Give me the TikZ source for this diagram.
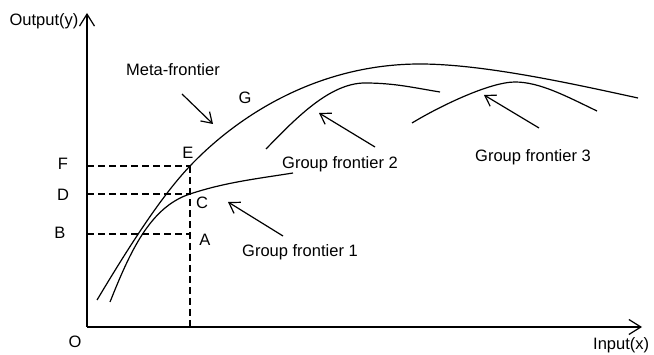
\documentclass[tikz,border=0pt]{standalone}
\usepackage{fontspec}
\setmainfont{Liberation Sans}
\usetikzlibrary{arrows.meta}
\begin{document}
\begin{tikzpicture}[x=1pt,y=-1pt,
  axis/.style={line width=1.3pt,-{Straight Barb[length=12pt,width=15pt,line width=1.2pt]}},
  curve/.style={line width=1.2pt},
  guide/.style={line width=1.1pt,dash pattern=on 7pt off 4pt},
  pointer/.style={line width=1.2pt,-{Straight Barb[length=10pt,width=13pt,line width=1.2pt]}},
  lbl/.style={font=\fontsize{16.5}{19}\selectfont,inner sep=0pt}]
\useasboundingbox (0,0) rectangle (654,355);
% axes
\coordinate (O) at (87,327);
\coordinate (ytop) at (87,13);
\coordinate (xend) at (642,327);
\draw[axis] (O) -- (ytop);
\draw[axis] (O) -- (xend);
% key points
\coordinate (E) at (190,166);
\coordinate (C) at (190,194);
\coordinate (A) at (190,234);
\coordinate (Fy) at (87,166);
\coordinate (Dy) at (87,194);
\coordinate (By) at (87,234);
\coordinate (Ex) at (190,327);
\draw[guide] (Fy) -- (E);
\draw[guide] (Dy) -- (C);
\draw[guide] (By) -- (A);
\draw[guide] (E) -- (Ex);
% frontiers
\draw[curve] (97,300) .. controls (127,250) and (160,197.5) .. (E)
  .. controls (240,113.5) and (320,64) .. (420,64)
  .. controls (485,64) and (578,85) .. (638,98);
\draw[curve] (110,302) .. controls (130,252) and (150,207) .. (C)
  .. controls (225,182.3) and (258,178.6) .. (293,173);
\draw[curve] (266,149) .. controls (296,118) and (330,83) .. (365,83)
  .. controls (395,83) and (415,88) .. (440,92);
\draw[curve] (412,123) .. controls (440,106) and (490,82) .. (515,82)
  .. controls (540,82) and (567,96.6) .. (597,111);
% labels
\node[lbl] (ylab) at (44,21) {Output(y)};
\node[lbl,anchor=north west] (xlab) at (593,337) {Input(x)};
\node[lbl] (Olab) at (75,342) {O};
\node[lbl] (Flab) at (63,164) {F};
\node[lbl] (Dlab) at (63,195) {D};
\node[lbl] (Blab) at (60,233) {B};
\node[lbl] (Elab) at (188,153) {E};
\node[lbl] (Clab) at (202,203) {C};
\node[lbl] (Alab) at (205,240) {A};
\node[lbl] (Glab) at (245,98) {G};
\node[lbl] (meta) at (173,70) {Meta-frontier};
\node[lbl] (g1) at (300,252) {Group frontier 1};
\node[lbl] (g2) at (340,164) {Group frontier 2};
\node[lbl] (g3) at (533,157) {Group frontier 3};
% pointers
\coordinate (mt) at (182,94);
\coordinate (mh) at (213,124);
\coordinate (t1) at (283,236);
\coordinate (h1) at (228,202);
\coordinate (t2) at (375,147);
\coordinate (h2) at (319,113);
\coordinate (t3) at (539,128);
\coordinate (h3) at (484,95);
\draw[pointer] (mt) -- (mh);
\draw[pointer] (t1) -- (h1);
\draw[pointer] (t2) -- (h2);
\draw[pointer] (t3) -- (h3);
\end{tikzpicture}
\end{document}
